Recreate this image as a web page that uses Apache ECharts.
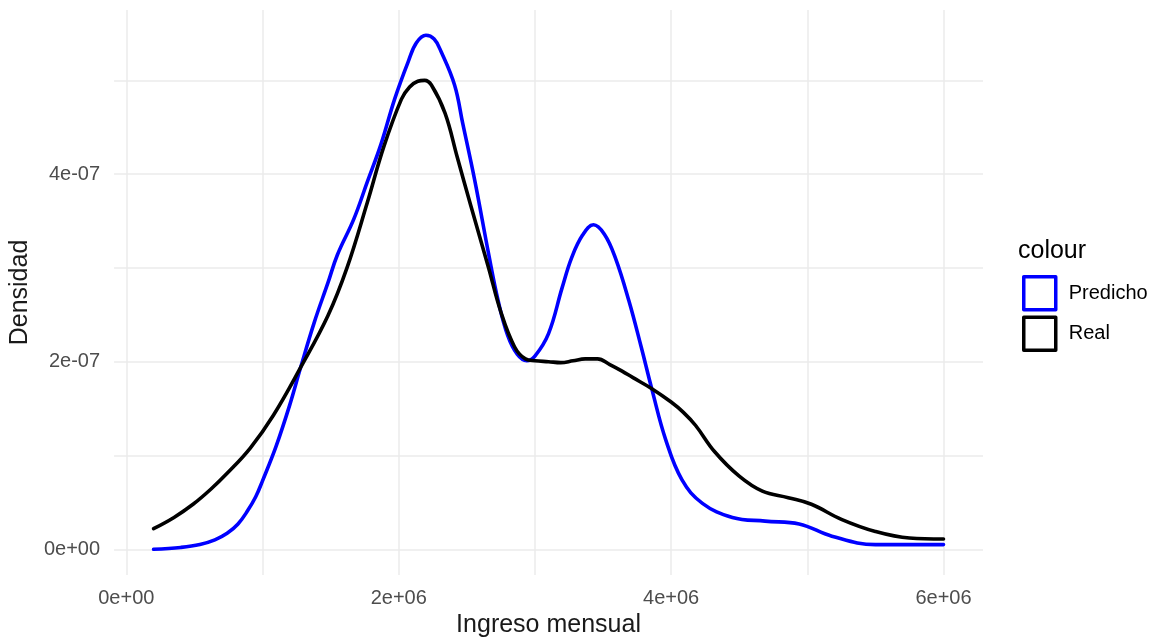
<!DOCTYPE html>
<html>
<head>
<meta charset="utf-8">
<script src="https://cdn.jsdelivr.net/npm/echarts@6/dist/echarts.min.js"></script>
<style>html,body{margin:0;padding:0;background:#fff;}#c{width:1161px;height:643px;}</style>
</head>
<body>
<div id="c"></div>
<script>
// Predicho (blue) density curve: income and density
const predichoX = [200000,400000,540000,650000,740000,820000,890000,950000,1000000,1100000,1200000,1280000,1380000,1480000,1550000,1670000,1770000,1870000,1970000,2070000,2130000,2200000,2260000,2310000,2410000,2470000,2560000,2660000,2730000,2800000,2870000,2940000,3000000,3100000,3200000,3270000,3350000,3430000,3510000,3590000,3690000,3780000,3860000,3960000,4080000,4230000,4450000,4690000,4940000,5180000,5500000,6000000];
const predichoY = [0.00,0.02,0.05,0.10,0.17,0.27,0.41,0.56,0.73,1.10,1.54,1.94,2.42,2.84,3.14,3.52,3.92,4.32,4.80,5.20,5.40,5.48,5.44,5.31,4.95,4.54,3.92,3.15,2.65,2.28,2.08,2.01,2.06,2.30,2.79,3.11,3.35,3.46,3.36,3.11,2.65,2.16,1.70,1.17,0.74,0.49,0.34,0.30,0.27,0.14,0.05,0.05].map(v => v * 1e-7);
// Real (black) density curve
const realX = [200000,350000,490000,620000,740000,910000,1080000,1280000,1480000,1620000,1770000,1890000,2020000,2080000,2140000,2190000,2240000,2340000,2430000,2530000,2660000,2750000,2850000,2930000,3000000,3100000,3190000,3280000,3370000,3460000,3550000,3640000,3720000,3850000,4000000,4090000,4180000,4320000,4500000,4670000,4860000,5030000,5250000,5500000,5750000,6000000];
const realY = [0.22,0.34,0.48,0.64,0.81,1.08,1.43,1.94,2.49,3.00,3.70,4.29,4.80,4.93,4.99,5.00,4.95,4.65,4.18,3.66,3.00,2.53,2.16,2.03,2.01,2.00,1.99,2.01,2.03,2.03,1.97,1.90,1.83,1.72,1.57,1.46,1.32,1.04,0.78,0.62,0.55,0.48,0.32,0.19,0.12,0.11].map(v => v * 1e-7);

// tick labels and grid lines
const xTickLabels = [0, 2000000, 4000000, 6000000];
const yTickLabels = [0, 2e-7, 4e-7];
const xGrid = [0, 1000000, 2000000, 3000000, 4000000, 5000000, 6000000];
const yGrid = [0, 1e-7, 2e-7, 3e-7, 4e-7, 5e-7];

function sci(v) {
  const s = Number(v).toExponential(0);
  const parts = s.split('e');
  const sign = parts[1][0];
  let d = parts[1].slice(1);
  if (d.length < 2) d = '0' + d;
  return parts[0] + 'e' + sign + d;
}

const FONT = '"Liberation Sans", Arial, sans-serif';
const chart = echarts.init(document.getElementById('c'), null, {renderer: 'canvas'});

chart.setOption({
  animation: false,
  backgroundColor: '#ffffff',
  textStyle: {fontFamily: FONT},
  grid: {left: 114, right: 178, top: 10, bottom: 68, containLabel: false},
  title: {
    text: 'colour', left: 1018, top: 239, padding: 0,
    textStyle: {fontFamily: FONT, fontSize: 25, fontWeight: 'normal', color: '#000'}
  },
  legend: {
    orient: 'vertical', left: 1022, top: 275, padding: 0,
    itemWidth: 32, itemHeight: 33, itemGap: 4,
    textStyle: {fontFamily: FONT, fontSize: 20, color: '#000', padding: [0, 0, 0, 8]},
    data: [
      {name: 'Predicho', icon: 'rect', itemStyle: {color: '#ffffff', borderColor: '#0000ff', borderWidth: 3.5, borderJoin: 'round'}},
      {name: 'Real', icon: 'rect', itemStyle: {color: '#ffffff', borderColor: '#000000', borderWidth: 3.5, borderJoin: 'round'}}
    ]
  },
  xAxis: {
    type: 'value', min: -90000, max: 6290000,
    name: 'Ingreso mensual', nameLocation: 'middle', nameGap: 38,
    nameTextStyle: {fontFamily: FONT, fontSize: 25, color: '#1a1a1a'},
    axisLine: {show: false},
    axisTick: {show: false, customValues: xGrid},
    splitLine: {show: true, lineStyle: {color: '#ebebeb', width: 1.5}},
    axisLabel: {customValues: xTickLabels, formatter: sci, margin: 13, fontFamily: FONT, fontSize: 20, color: '#4d4d4d'}
  },
  yAxis: {
    type: 'value', min: -2.74e-8, max: 5.75e-7,
    name: 'Densidad', nameLocation: 'middle', nameGap: 76, nameRotate: 90,
    nameTextStyle: {fontFamily: FONT, fontSize: 25, color: '#1a1a1a'},
    axisLine: {show: false},
    axisTick: {show: false, customValues: yGrid},
    splitLine: {show: true, lineStyle: {color: '#ebebeb', width: 1.5}},
    axisLabel: {customValues: yTickLabels, formatter: sci, margin: 14, fontFamily: FONT, fontSize: 20, color: '#4d4d4d'}
  },
  series: [
    {
      name: 'Predicho', type: 'line', z: 3,
      data: predichoX.map((x, i) => [x, predichoY[i]]),
      smooth: 0.4, showSymbol: false, symbol: 'none',
      lineStyle: {color: '#0000ff', width: 3.6, join: 'round', cap: 'round'}, itemStyle: {color: '#0000ff'}
    },
    {
      name: 'Real', type: 'line', z: 4,
      data: realX.map((x, i) => [x, realY[i]]),
      smooth: 0.4, showSymbol: false, symbol: 'none',
      lineStyle: {color: '#000000', width: 3.6, join: 'round', cap: 'round'}, itemStyle: {color: '#000000'}
    }
  ]
});
</script>
</body>
</html>
